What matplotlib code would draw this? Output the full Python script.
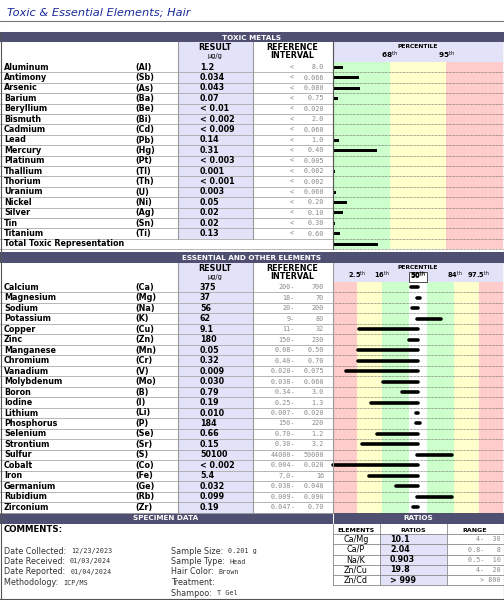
import matplotlib
matplotlib.use("Agg")
import matplotlib.pyplot as plt
from matplotlib.patches import Rectangle

tox_names = ["Aluminum","Antimony","Arsenic","Barium","Beryllium","Bismuth","Cadmium","Lead","Mercury",
             "Platinum","Thallium","Thorium","Uranium","Nickel","Silver","Tin","Titanium"]
tox_syms = ["Al","Sb","As","Ba","Be","Bi","Cd","Pb","Hg","Pt","Tl","Th","U","Ni","Ag","Sn","Ti"]
tox_results = ["1.2","0.034","0.043","0.07","< 0.01","< 0.002","< 0.009","0.14","0.31","< 0.003",
               "0.001","< 0.001","0.003","0.05","0.02","0.02","0.13"]
tox_refs = ["8.0","0.066","0.080","0.75","0.020","2.0","0.060","1.0","0.40","0.005","0.002","0.002",
            "0.060","0.20","0.10","0.30","0.60"]
# bar length in percentile zone units (1 = 68th, 2 = 95th)
tox_bars = [0.18,0.45,0.48,0.09,0,0,0,0.1,0.77,0,0.03,0,0.05,0.25,0.18,0.03,0.12]
total_toxic = 0.8

ess_names = ["Calcium","Magnesium","Sodium","Potassium","Copper","Zinc","Manganese","Chromium","Vanadium",
             "Molybdenum","Boron","Iodine","Lithium","Phosphorus","Selenium","Strontium","Sulfur","Cobalt",
             "Iron","Germanium","Rubidium","Zirconium"]
ess_syms = ["Ca","Mg","Na","K","Cu","Zn","Mn","Cr","V","Mo","B","I","Li","P","Se","Sr","S","Co","Fe","Ge","Rb","Zr"]
ess_results = ["375","37","56","62","9.1","180","0.05","0.32","0.009","0.030","0.79","0.19","0.010","184",
               "0.66","0.15","50100","< 0.002","5.4","0.032","0.099","0.19"]
ess_lo = ["200","18","20","9","11","150","0.08","0.40","0.020","0.030","0.34","0.25","0.007","150","0.70",
          "0.30","44000","0.004","7.0","0.030","0.009","0.047"]
ess_hi = ["700","70","200","80","32","230","0.50","0.70","0.075","0.060","3.0","1.3","0.020","220","1.2",
          "3.2","50000","0.020","16","0.040","0.090","0.70"]
# bar start/end in zone units (7 zones, 3.5 = 50th)
ess_bar_lo = [3.23,3.45,3.27,3.45,1.06,3.11,1.02,1.02,0.53,2.05,2.86,1.56,3.42,3.40,1.83,1.18,3.45,0.0,1.48,2.58,3.45,3.30]
ess_bar_hi = [3.50,3.58,3.50,4.46,3.50,3.50,3.50,3.50,3.50,3.50,3.50,3.50,3.50,3.60,3.50,3.50,4.91,3.50,3.50,3.50,4.91,3.50]

ratio_names = ["Ca/Mg","Ca/P","Na/K","Zn/Cu","Zn/Cd"]
ratio_vals = ["10.1","2.04","0.903","19.8","> 999"]
ratio_ranges = ["4-  30","0.8-   8","0.5-  10","4-  20","> 800"]

W, H = 504, 600
fig = plt.figure(figsize=(5.04, 6.0), dpi=100)
ax = fig.add_axes([0, 0, 1, 1])
ax.set_xlim(0, W); ax.set_ylim(H, 0); ax.axis("off")

HDR = "#4f4f72"; LAV = "#e2e2f8"; GRN = "#ccffcc"; YEL = "#ffffcc"; RED = "#ffcccc"; GR = "#999999"
fs = 5.8
mfs = 4.9
P0, P1 = 333, 503

def rect(x0, y0, x1, y1, fc, ec="none", lw=0.6):
    ax.add_patch(Rectangle((x0, y0), x1 - x0, y1 - y0, fc=fc, ec=ec, lw=lw))

def hline(y, x0, x1, c=GR, lw=0.6, ls="-"):
    ax.plot([x0, x1], [y, y], color=c, lw=lw, ls=ls)

def vline(x, y0, y1, c=GR, lw=0.8):
    ax.plot([x, x], [y0, y1], color=c, lw=lw)

ax.text(7, 13, "Toxic & Essential Elements; Hair", color="#1a2a9a", fontsize=8.2, style="italic", va="center")
hline(20.5, 0, W, c="#777777", lw=0.8)

def colheads(y0, y1):
    rect(178, y0, 253, y1, LAV)
    rect(P0, y0, P1, y1, LAV)
    ym = (y0 + y1) / 2
    ax.text(215, ym - 4, "RESULT", fontsize=fs, weight="bold", ha="center", va="center")
    ax.text(215, ym + 4, "µg/g", fontsize=4.8, ha="center", va="center")
    ax.text(292, ym - 4, "REFERENCE", fontsize=fs, weight="bold", ha="center", va="center")
    ax.text(292, ym + 4, "INTERVAL", fontsize=fs, weight="bold", ha="center", va="center")
    return ym

# ---------------- toxic ----------------
rect(0, 32, W, 42, HDR)
ax.text(252, 37.5, "TOXIC METALS", color="white", fontsize=5.2, weight="bold", ha="center", va="center")
ym = colheads(42, 62)
ax.text(418, ym - 5, "PERCENTILE", fontsize=4.3, weight="bold", ha="center", va="center")
ax.text(389, ym + 3, r"68$^{\mathrm{th}}$", fontsize=5.2, weight="bold", ha="center", va="center")
ax.text(446, ym + 3, r"95$^{\mathrm{th}}$", fontsize=5.2, weight="bold", ha="center", va="center")
ty0, tp = 62, 10.4
nt = len(tox_names) + 1
zw = (P1 - P0) / 3
for i, c in enumerate([GRN, YEL, RED]):
    rect(P0 + i * zw, ty0, P0 + (i + 1) * zw, ty0 + nt * tp, c)
rect(178, ty0, 253, ty0 + len(tox_names) * tp, LAV)
for i in range(nt):
    y = ty0 + i * tp + tp / 2
    yb = ty0 + (i + 1) * tp
    if i < len(tox_names):
        ax.text(4, y, tox_names[i], fontsize=fs, weight="bold", va="center")
        ax.text(135, y, f"({tox_syms[i]})", fontsize=fs, weight="bold", va="center")
        ax.text(200, y, tox_results[i], fontsize=fs, weight="bold", va="center")
        ax.text(290, y, "<", fontsize=mfs, color="#888888", va="center", family="DejaVu Sans Mono")
        ax.text(324, y, tox_refs[i], fontsize=mfs, color="#888888", va="center", ha="right", family="DejaVu Sans Mono")
        b = tox_bars[i]
    else:
        ax.text(4, y, "Total Toxic Representation", fontsize=fs, weight="bold", va="center")
        b = total_toxic
    if b > 0:
        ax.add_patch(Rectangle((P0, y - 1.5), b * zw, 3.0, fc="black", ec="none"))
    hline(yb, 0, P0, c="#aaaaaa", lw=0.6)
    hline(yb, P0, P1, c="#555555", lw=0.5, ls=(0, (1, 1)))
for x in [178, 253, P0]:
    vline(x, 42, ty0 + len(tox_names) * tp, c=GR)
vline(P0, 42, ty0 + nt * tp, c="#555555")

# ---------------- essential ----------------
ey_h = 252
rect(0, ey_h, W, ey_h + 10.5, HDR)
ax.text(252, ey_h + 5.5, "ESSENTIAL AND OTHER ELEMENTS", color="white", fontsize=5.2, weight="bold", ha="center", va="center")
ym = colheads(263, 282)
ez = (P1 - P0) / 7
ax.text(418, ym - 5, "PERCENTILE", fontsize=4.3, weight="bold", ha="center", va="center")
for lab, u in [("2.5", 1), ("16", 2), ("50", 3.5), ("84", 5), ("97.5", 6)]:
    ax.text(P0 + u * ez, ym + 3, lab + r"$^{\mathrm{th}}$", fontsize=4.8, weight="bold", ha="center", va="center")
ey0, ep = 282, 10.48
ne = len(ess_names)
yend = ey0 + ne * ep
for i, c in enumerate([RED, YEL, GRN, GRN, GRN, YEL, RED]):
    x0 = P0 + i * ez
    rect(x0, ey0, x0 + ez, yend, c)
rect(409, ey0, 427, yend, "white")
rect(409, 272, 427, 282, "white", ec="#333333", lw=0.6)
ax.text(418, 276.5, r"50$^{\mathrm{th}}$", fontsize=4.8, weight="bold", ha="center", va="center")
rect(178, ey0, 253, yend, LAV)
for i in range(ne):
    y = ey0 + i * ep + ep / 2
    yb = ey0 + (i + 1) * ep
    ax.text(4, y, ess_names[i], fontsize=fs, weight="bold", va="center")
    ax.text(135, y, f"({ess_syms[i]})", fontsize=fs, weight="bold", va="center")
    ax.text(200, y, ess_results[i], fontsize=fs, weight="bold", va="center")
    ax.text(295, y, ess_lo[i] + "-", fontsize=mfs, color="#888888", va="center", ha="right", family="DejaVu Sans Mono")
    ax.text(324, y, ess_hi[i], fontsize=mfs, color="#888888", va="center", ha="right", family="DejaVu Sans Mono")
    x0 = P0 + ess_bar_lo[i] * ez; x1 = P0 + ess_bar_hi[i] * ez
    ax.plot([x0, x1], [y, y], color="black", lw=2.6, solid_capstyle="round")
    hline(yb, 0, P0, c="#aaaaaa", lw=0.6)
    hline(yb, P0, P1, c="#555555", lw=0.5, ls=(0, (1, 1)))
for x in [178, 253, P0]:
    vline(x, 263, yend, c=GR)

# ---------------- specimen & ratios ----------------
sy = 513
rect(0, sy, P0, sy + 11, HDR)
rect(P0 + 1, sy, W, sy + 11, HDR)
ax.text(166, sy + 5.5, "SPECIMEN DATA", color="white", fontsize=5.2, weight="bold", ha="center", va="center")
ax.text(418, sy + 5.5, "RATIOS", color="white", fontsize=5.2, weight="bold", ha="center", va="center")
ax.text(4, 530, "COMMENTS:", fontsize=6.2, weight="bold", va="center")
spec_l = [("Date Collected:  ", "12/23/2023"), ("Date Received:  ", "01/03/2024"),
          ("Date Reported:  ", "01/04/2024"), ("Methodology:  ", "ICP/MS")]
spec_r = [("Sample Size:  ", "0.201 g"), ("Sample Type:  ", "Head"), ("Hair Color:  ", "Brown"),
          ("Treatment:", ""), ("Shampoo:  ", "T Gel")]
for i, (a, b) in enumerate(spec_l):
    t = ax.text(4, 551 + i * 10.5, a, fontsize=fs, va="center", color="#333333")
    ax.annotate(b, xycoords=t, xy=(1, 0.5), va="center", fontsize=mfs, family="DejaVu Sans Mono", color="#333333")
for i, (a, b) in enumerate(spec_r):
    t = ax.text(171, 551 + i * 10.5, a, fontsize=fs, va="center", color="#333333")
    if b:
        ax.annotate(b, xycoords=t, xy=(1, 0.5), va="center", fontsize=mfs, family="DejaVu Sans Mono", color="#333333")
# ratio table
rt0, rp = 524, 10.2
rect(380, rt0 + rp, 447, rt0 + 6 * rp, LAV)
ax.text(356, rt0 + rp / 2 + 1, "ELEMENTS", fontsize=4.5, weight="bold", ha="center", va="center")
ax.text(413, rt0 + rp / 2 + 1, "RATIOS", fontsize=4.5, weight="bold", ha="center", va="center")
ax.text(475, rt0 + rp / 2 + 1, "RANGE", fontsize=4.5, weight="bold", ha="center", va="center")
for i in range(5):
    y = rt0 + (i + 1.5) * rp
    ax.text(356, y, ratio_names[i], fontsize=fs, ha="center", va="center")
    ax.text(390, y, ratio_vals[i], fontsize=fs, weight="bold", va="center")
    ax.text(501, y, ratio_ranges[i], fontsize=mfs, color="#888888", ha="right", va="center", family="DejaVu Sans Mono")
for i in range(1, 7):
    hline(rt0 + i * rp, P0, W, c="#888888", lw=0.6)
for x in [P0, 380, 447, W - 0.5]:
    vline(x, rt0, rt0 + 6 * rp, c="#888888", lw=0.6)

# outer frame lines
hline(598.5, 0, W, c="#555555", lw=0.8)
vline(0.5, 32, 598.5, c="#555555"); vline(W - 0.5, 32, 598.5, c="#555555")

fig.savefig("out.png", dpi=100)
